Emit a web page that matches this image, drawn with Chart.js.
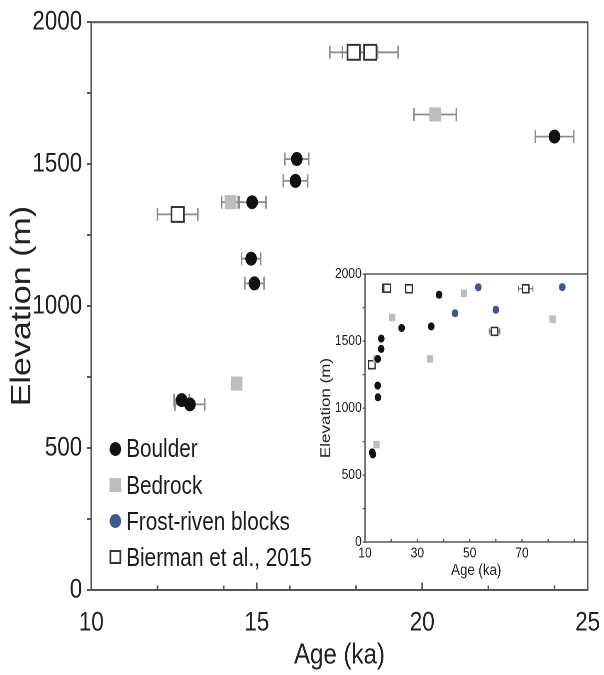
<!DOCTYPE html>
<html>
<head>
<meta charset="utf-8">
<script src="https://cdn.jsdelivr.net/npm/chart.js@4.4.0/dist/chart.umd.min.js"></script>
<style>
  html, body { margin: 0; padding: 0; background: #fff; overflow: hidden; }
  #outer { position: relative; width: 604px; height: 675px; overflow: hidden; background: #fff; }
  #wrap { position: absolute; left: 0; top: 0; width: 740px; height: 675px; transform: scaleX(0.83); transform-origin: 0 0; }
  #main { position: absolute; left: 0; top: 0; }
  #inset { position: absolute; left: 360px; top: 260px; }
  #legend { position: absolute; left: 0; top: 0; font-family: "Liberation Sans", Arial, sans-serif; font-size: 25px; color: #1a1a1a; }
  .row { position: absolute; left: 130px; height: 36px; display: flex; align-items: center; white-space: nowrap; }
  .mk { width: 17px; height: 14px; margin-right: 5px; position: relative; }
  .mk span { position: absolute; left: 1.5px; top: 0; width: 14px; height: 14px; box-sizing: border-box; }
</style>
</head>
<body>
<div id="outer">
  <div id="wrap">
    <canvas id="main" width="740" height="675"></canvas>
    <canvas id="inset" width="368" height="320"></canvas>
    <div id="legend"></div>
  </div>
</div>
<script>
// ---------------- data ----------------
const boulderAge  = [24.0, 16.21, 16.17, 14.86, 14.83, 14.93, 12.73, 12.98, 35.3, 38.3];
const boulderElev = [1597, 1518, 1441, 1366, 1167, 1080, 669, 654, 1609, 1845];
const boulderErr  = [0.58, 0.36, 0.37, 0.42, 0.29, 0.29, 0.23, 0.45, 0.8, 0.8];

const bedrockAge  = [20.39, 14.21, 14.39, 34.9, 47.8, 81.7];
const bedrockElev = [1675, 1366, 727, 1367, 1855, 1662];
const bedrockErr  = [0.64, 0.27, 0.15, 0.8, 0.8, 0.8];

const frostAge  = [44.4, 53.3, 60.0, 85.4];
const frostElev = [1707, 1901, 1733, 1902];
const frostErr  = [0.8, 0.8, 0.8, 0.8];

const biermanAge  = [17.93, 18.43, 12.61, 26.8, 71.4, 59.5];
const biermanElev = [1894, 1894, 1323, 1890, 1890, 1572];
const biermanErr  = [0.72, 0.84, 0.61, 0.9, 2.75, 2.0];

const seriesNames = ['Boulder', 'Bedrock', 'Frost-riven blocks', 'Bierman et al., 2015'];

const mainXMajor = [10, 15, 20, 25];
const mainXMinor = [12, 14, 16, 18, 22, 24];
const insetXTicks = [20, 30, 40, 50, 60, 70, 80, 90];

// ---------------- helpers ----------------
const FONT = '"Liberation Sans", Arial, sans-serif';
const toPts = (xs, ys) => xs.map((x, i) => ({ x: x, y: ys[i] }));

const errorBarPlugin = {
  id: 'errbars',
  beforeDatasetsDraw(chart, args, opts) {
    const { ctx, chartArea: a } = chart;
    const xs = chart.scales.x, ys = chart.scales.y;
    ctx.save();
    ctx.beginPath();
    ctx.rect(a.left, a.top, a.right - a.left, a.bottom - a.top);
    ctx.clip();
    ctx.strokeStyle = opts.color;
    ctx.lineWidth = opts.lineWidth;
    chart.data.datasets.forEach((ds) => {
      if (!ds.xErr) return;
      ds.data.forEach((p, j) => {
        const e = ds.xErr[j];
        if (!e) return;
        const y = ys.getPixelForValue(p.y);
        const x0 = xs.getPixelForValue(p.x - e);
        const x1 = xs.getPixelForValue(p.x + e);
        ctx.beginPath();
        ctx.moveTo(x0, y); ctx.lineTo(x1, y);
        ctx.moveTo(x0, y - opts.cap); ctx.lineTo(x0, y + opts.cap);
        ctx.moveTo(x1, y - opts.cap); ctx.lineTo(x1, y + opts.cap);
        ctx.stroke();
      });
    });
    ctx.restore();
  }
};

const framePlugin = {
  id: 'frame',
  beforeDraw(chart, args, opts) {
    if (!opts.fill) return;
    const { ctx, chartArea: a } = chart;
    ctx.save();
    ctx.fillStyle = opts.fill;
    ctx.fillRect(a.left, a.top, a.right - a.left, a.bottom - a.top);
    ctx.restore();
  },
  afterDraw(chart, args, opts) {
    const { ctx, chartArea: a } = chart;
    const xs = chart.scales.x;
    ctx.save();
    ctx.strokeStyle = opts.color;
    ctx.lineWidth = opts.lineWidth;
    ctx.beginPath();
    (opts.minor || []).forEach(v => {
      const x = xs.getPixelForValue(v);
      ctx.moveTo(x, a.bottom); ctx.lineTo(x, a.bottom - opts.minorLen);
    });
    (opts.major || []).forEach(v => {
      const x = xs.getPixelForValue(v);
      ctx.moveTo(x, a.bottom); ctx.lineTo(x, a.bottom - opts.majorLen);
    });
    ctx.stroke();
    ctx.strokeRect(a.left, a.top, a.right - a.left, a.bottom - a.top);
    ctx.restore();
  }
};

function makeDatasets(sz) {
  return [
    { label: seriesNames[0], data: toPts(boulderAge, boulderElev), xErr: boulderErr,
      pointStyle: 'circle', pointRadius: sz.circle, backgroundColor: '#111111', borderColor: '#111111', borderWidth: 0 },
    { label: seriesNames[1], data: toPts(bedrockAge, bedrockElev), xErr: bedrockErr,
      pointStyle: 'rect', pointRadius: sz.rect, backgroundColor: '#bdbdbd', borderColor: '#bdbdbd', borderWidth: 0 },
    { label: seriesNames[2], data: toPts(frostAge, frostElev), xErr: frostErr,
      pointStyle: 'circle', pointRadius: sz.circle, backgroundColor: '#3e5a8c', borderColor: '#3e5a8c', borderWidth: 0 },
    { label: seriesNames[3], data: toPts(biermanAge, biermanElev), xErr: biermanErr,
      pointStyle: 'rect', pointRadius: sz.open, backgroundColor: '#ffffff', borderColor: '#333333', borderWidth: sz.openBorder }
  ];
}

// ---------------- main chart ----------------
new Chart(document.getElementById('main'), {
  type: 'scatter',
  data: { datasets: makeDatasets({ circle: 7, rect: 10, open: 10.5, openBorder: 2 }) },
  options: {
    responsive: false,
    devicePixelRatio: 2,
    animation: false,
    events: [],
    layout: { padding: { top: 19.4, right: 24.3, left: 0, bottom: 0 } },
    plugins: {
      legend: { display: false },
      tooltip: { enabled: false },
      errbars: { color: '#8c8c8c', lineWidth: 1.8, cap: 6.5 },
      frame: { color: '#555555', lineWidth: 2, minor: mainXMinor, major: mainXMajor, minorLen: 4.5, majorLen: 7.5 }
    },
    scales: {
      x: {
        type: 'linear', min: 10, max: 25,
        grid: { display: false, drawTicks: false },
        border: { display: false },
        ticks: { stepSize: 5, padding: 17, color: '#222', font: { family: FONT, size: 27 },
                 callback: v => String(v) },
        title: { display: true, text: 'Age (ka)', color: '#222', font: { family: FONT, size: 29 },
                 padding: { top: 0, bottom: 2 } },
        afterFit: s => { s.height = 85; }
      },
      y: {
        type: 'linear', min: 0, max: 2000,
        grid: { display: true, drawOnChartArea: false, drawTicks: true, tickLength: 5, color: '#555555', lineWidth: 2 },
        border: { display: false },
        ticks: { stepSize: 250, padding: 6, color: '#222', font: { family: FONT, size: 27 },
                 callback: v => (v % 500 === 0 ? String(v) : '') },
        title: { display: true, text: 'Elevation (m)', color: '#222', font: { family: FONT, size: 34 },
                 padding: { top: 6.5, bottom: 0 } },
        afterFit: s => { s.width = 110; }
      }
    }
  },
  plugins: [errorBarPlugin, framePlugin]
});

// ---------------- inset chart ----------------
new Chart(document.getElementById('inset'), {
  type: 'scatter',
  data: { datasets: makeDatasets({ circle: 4, rect: 5.3, open: 5.6, openBorder: 1.6 }) },
  options: {
    responsive: false,
    devicePixelRatio: 2,
    animation: false,
    events: [],
    layout: { padding: { top: 14, right: 20.3, left: 0, bottom: 0 } },
    plugins: {
      legend: { display: false },
      tooltip: { enabled: false },
      errbars: { color: '#777777', lineWidth: 1.3, cap: 3 },
      frame: { fill: '#ffffff', color: '#555555', lineWidth: 1.5, minor: insetXTicks, major: [], minorLen: 3, majorLen: 3 }
    },
    scales: {
      x: {
        type: 'linear', min: 10, max: 95,
        grid: { display: false, drawTicks: false },
        border: { display: false },
        ticks: { stepSize: 10, padding: 3, color: '#222', font: { family: FONT, size: 14.5 },
                 callback: v => ((v - 10) % 20 === 0 && v <= 90 ? String(v) : '') },
        title: { display: true, text: 'Age (ka)', color: '#222', font: { family: FONT, size: 16 },
                 padding: { top: 0, bottom: 0 } },
        afterFit: s => { s.height = 38; }
      },
      y: {
        type: 'linear', min: 0, max: 2000,
        grid: { display: true, drawOnChartArea: false, drawTicks: true, tickLength: 3, color: '#555555', lineWidth: 1.3 },
        border: { display: false },
        ticks: { stepSize: 250, padding: 1, color: '#222', font: { family: FONT, size: 14.5 },
                 callback: v => (v % 500 === 0 ? String(v) : '') },
        title: { display: true, text: 'Elevation (m)', color: '#222', font: { family: FONT, size: 17 },
                 padding: { top: 22.6, bottom: 0 } },
        afterFit: s => { s.width = 79.8; }
      }
    }
  },
  plugins: [errorBarPlugin, framePlugin]
});

// ---------------- legend (HTML text) ----------------
const legendStyles = [
  'background:#111111;border-radius:50%;',
  'background:#bdbdbd;',
  'background:#3e5a8c;border-radius:50%;',
  'background:#ffffff;border:2px solid #333333;'
];
const legendCenters = [448.5, 485, 521, 557];
const legendEl = document.getElementById('legend');
seriesNames.forEach((name, i) => {
  const row = document.createElement('div');
  row.className = 'row';
  row.style.top = (legendCenters[i] - 18) + 'px';
  const mk = document.createElement('div');
  mk.className = 'mk';
  const sp = document.createElement('span');
  sp.setAttribute('style', legendStyles[i]);
  mk.appendChild(sp);
  const tx = document.createElement('span');
  tx.textContent = name;
  row.appendChild(mk);
  row.appendChild(tx);
  legendEl.appendChild(row);
});
</script>
</body>
</html>
